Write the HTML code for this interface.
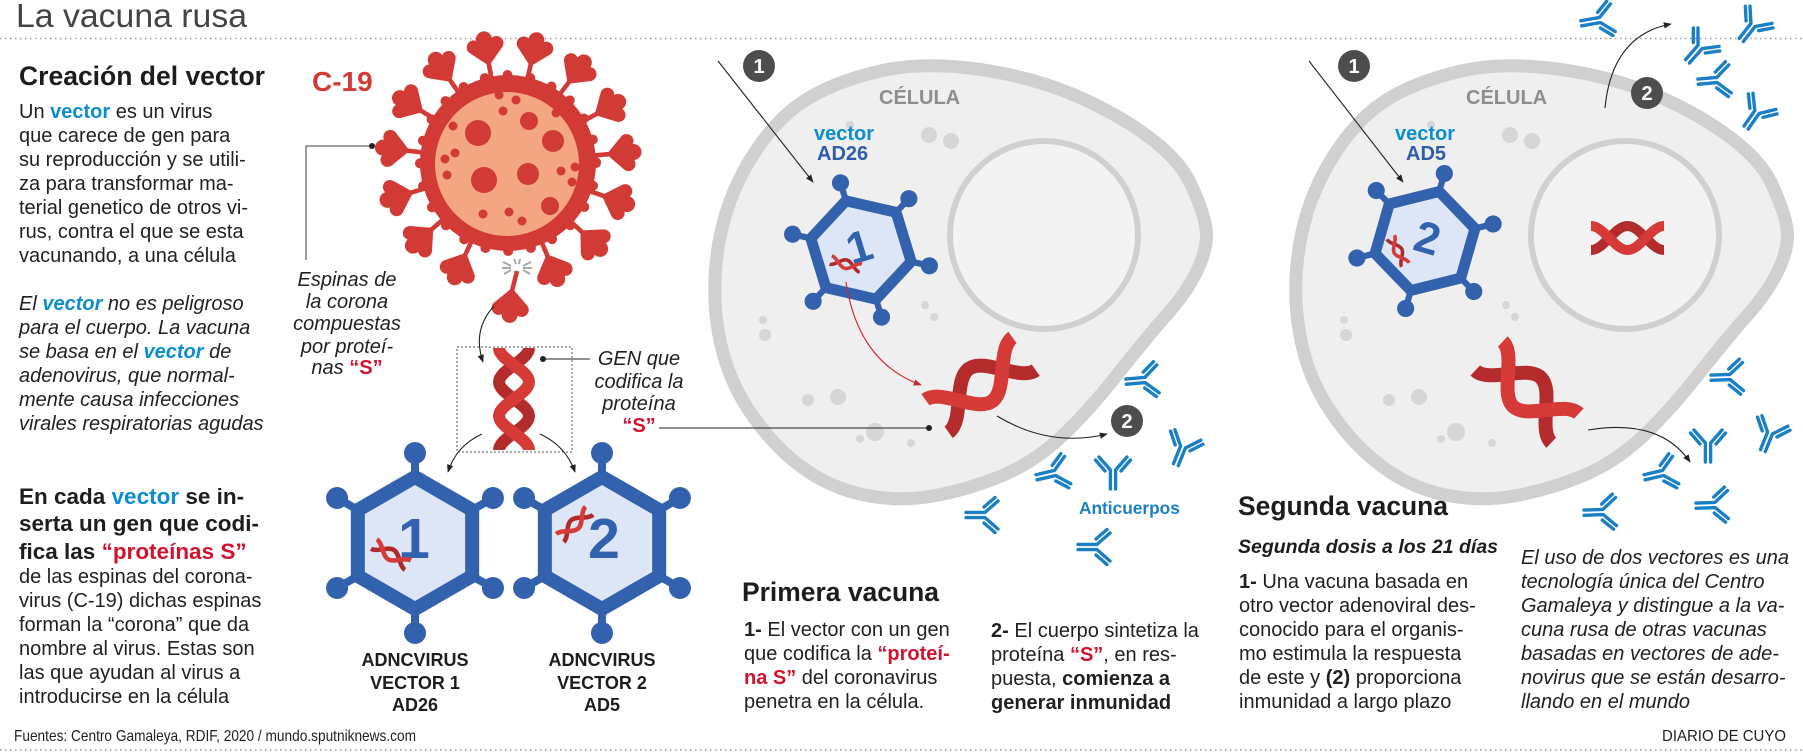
<!DOCTYPE html>
<html><head><meta charset="utf-8"><style>
html,body{margin:0;padding:0;background:#fff;overflow:hidden;}
svg{display:block;font-family:"Liberation Sans",Arial,sans-serif;}
</style></head><body>
<svg width="1803" height="752" viewBox="0 0 1803 752" xmlns="http://www.w3.org/2000/svg" xmlns:xlink="http://www.w3.org/1999/xlink">
<defs>
<marker id="ah" viewBox="0 0 10 10" refX="9" refY="5" markerWidth="8" markerHeight="8" markerUnits="userSpaceOnUse" orient="auto"><path d="M0 1 L10 5 L0 9 z" fill="#222"/></marker>
<marker id="ahr" viewBox="0 0 10 10" refX="9" refY="5" markerWidth="8" markerHeight="8" markerUnits="userSpaceOnUse" orient="auto"><path d="M0 1 L10 5 L0 9 z" fill="#d3202e"/></marker>
<g id="ab" fill="none" stroke="#1b7fc6" stroke-width="3.4" stroke-linecap="round" stroke-linejoin="round"><path d="M-2.6 19 V0 L-14 -13 M2.6 19 V0 L14 -13 M-8 1 L-17.5 -10 M8 1 L17.5 -10"/></g>
<g id="sph"><path d="M0 -99 L-16.5 -115 A7 7 0 0 1 -8 -126 A8 8 0 0 1 8 -126 A7 7 0 0 1 16.5 -115 Z"/></g>
<g id="sp"><rect x="-2.3" y="-108" width="4.6" height="24"/><use href="#sph" xlink:href="#sph"/></g>
<g id="hex">
 <g stroke="#3262ae" stroke-width="8"><line x1="0" y1="-66" x2="0" y2="-90"/><line x1="57.16" y1="-33" x2="77.94" y2="-45"/><line x1="57.16" y1="33" x2="77.94" y2="45"/><line x1="0" y1="66" x2="0" y2="90"/><line x1="-57.16" y1="33" x2="-77.94" y2="45"/><line x1="-57.16" y1="-33" x2="-77.94" y2="-45"/></g>
 <g fill="#3262ae"><circle cx="0" cy="-90" r="11"/><circle cx="77.94" cy="-45" r="11"/><circle cx="77.94" cy="45" r="11"/><circle cx="0" cy="90" r="11"/><circle cx="-77.94" cy="45" r="11"/><circle cx="-77.94" cy="-45" r="11"/></g>
 <polygon points="0,-66 57.16,-33 57.16,33 0,66 -57.16,33 -57.16,-33" fill="#dce6f6" stroke="#3262ae" stroke-width="14" stroke-linejoin="round"/>
</g>
<g id="mh" fill="none" stroke-width="4.5"><path stroke="#b02a2a" d="M0,5.5 C7.2,5.5 12.8,-5.5 20,-5.5 C27.2,-5.5 32.8,5.5 40,5.5"/><path stroke="#d63b37" d="M0,-5.5 C7.2,-5.5 12.8,5.5 20,5.5 C27.2,5.5 32.8,-5.5 40,-5.5"/></g>
</defs>

<!-- dotted separators -->
<line x1="0" y1="38.5" x2="1803" y2="38.5" stroke="#9a9a9a" stroke-width="1.5" stroke-dasharray="1.5 3.5"/>
<line x1="0" y1="750" x2="1803" y2="750" stroke="#9a9a9a" stroke-width="1.5" stroke-dasharray="1.5 3.5"/>

<!-- cells -->
<g id="cell">
 <path d="M 878 71.5 Q 926 60 993 71.5 Q 1060 83 1117.5 116.5 Q 1175 150 1190.5 183.5 Q 1206 217 1206.5 233.5 Q 1207 250 1197 271 Q 1187 292 1167 314.5 Q 1147 337 1117 375 Q 1087 413 1060 438 Q 1033 463 1000 476.5 Q 967 490 933 496 Q 899 502 864.5 495 Q 830 488 801 466.5 Q 772 445 749 410.5 Q 726 376 718.5 333 Q 711 290 718.5 245 Q 726 200 749 161.5 Q 772 123 801 103 Q 830 83 878 71.5 Z" fill="#efefef" stroke="#d0d0d0" stroke-width="13"/>
 <circle cx="1044" cy="235" r="94" fill="#f3f3f3" stroke="#d0d0d0" stroke-width="6"/>
 <g fill="#d6d6d6">
  <circle cx="929" cy="135" r="8"/><circle cx="951" cy="141" r="8"/><circle cx="850" cy="125" r="4"/><circle cx="833" cy="137" r="3"/>
  <circle cx="763" cy="320" r="4"/><circle cx="765" cy="335" r="6"/><circle cx="925" cy="305" r="4"/><circle cx="934" cy="317" r="4"/>
  <circle cx="808" cy="400" r="6"/><circle cx="838" cy="397" r="8"/><circle cx="875" cy="432" r="9"/><circle cx="860" cy="439" r="4"/><circle cx="911" cy="443" r="4"/>
 </g>
</g>
<use href="#cell" xlink:href="#cell" transform="translate(581,0)"/>

<!-- virus -->
<g fill="#d23a36">
 <use href="#sp" xlink:href="#sp" transform="translate(508,163) rotate(85)"/>
 <use href="#sp" xlink:href="#sp" transform="translate(508,163) rotate(109)"/>
 <use href="#sp" xlink:href="#sp" transform="translate(508,163) rotate(133)"/>
 <use href="#sp" xlink:href="#sp" transform="translate(508,163) rotate(157)"/>
 <use href="#sp" xlink:href="#sp" transform="translate(508,163) rotate(205)"/>
 <use href="#sp" xlink:href="#sp" transform="translate(508,163) rotate(229)"/>
 <use href="#sp" xlink:href="#sp" transform="translate(508,163) rotate(253)"/>
 <use href="#sp" xlink:href="#sp" transform="translate(508,163) rotate(277)"/>
 <use href="#sp" xlink:href="#sp" transform="translate(508,163) rotate(301)"/>
 <use href="#sp" xlink:href="#sp" transform="translate(508,163) rotate(325)"/>
 <use href="#sp" xlink:href="#sp" transform="translate(508,163) rotate(349)"/>
 <use href="#sp" xlink:href="#sp" transform="translate(508,163) rotate(13)"/>
 <use href="#sp" xlink:href="#sp" transform="translate(508,163) rotate(37)"/>
 <use href="#sp" xlink:href="#sp" transform="translate(508,163) rotate(61)"/>
 <circle cx="508" cy="163" r="88"/>
 <circle cx="508" cy="163" r="88" fill="none" stroke="#d23a36" stroke-width="10" stroke-dasharray="0 23" stroke-linecap="round"/>
 <circle cx="507" cy="164" r="72" fill="#f4a582"/>
 <circle cx="478" cy="133" r="13"/><circle cx="484" cy="180" r="13"/><circle cx="529" cy="121" r="9"/><circle cx="553" cy="141" r="11"/><circle cx="528" cy="174" r="11"/><circle cx="550" cy="206" r="9"/>
 <circle cx="499" cy="95" r="4.5"/><circle cx="516" cy="100" r="4.5"/><circle cx="503" cy="111" r="4.5"/><circle cx="556" cy="113" r="4.5"/><circle cx="453" cy="126" r="4.5"/><circle cx="455" cy="153" r="4.5"/><circle cx="445" cy="159" r="4.5"/><circle cx="447" cy="175" r="4.5"/><circle cx="561" cy="171" r="4.5"/><circle cx="575" cy="167" r="4.5"/><circle cx="572" cy="182" r="4.5"/><circle cx="483" cy="214" r="4.5"/><circle cx="509" cy="212" r="4.5"/><circle cx="522" cy="221" r="4.5"/>
 <!-- detached spike -->
 <line x1="517" y1="271" x2="512" y2="291" stroke="#d23a36" stroke-width="4.6"/>
 <g transform="translate(512,288) rotate(185) translate(0,99)"><use href="#sph" xlink:href="#sph"/></g>
</g>
<g stroke="#a9a9a9" stroke-width="2">
 <line x1="503" y1="262" x2="511" y2="266"/><line x1="502" y1="268" x2="511" y2="268"/><line x1="504" y1="274" x2="511" y2="270"/>
 <line x1="523" y1="266" x2="531" y2="262"/><line x1="523" y1="268" x2="532" y2="268"/><line x1="523" y1="270" x2="530" y2="274"/>
 <line x1="514" y1="259" x2="516" y2="264"/><line x1="520" y1="259" x2="519" y2="264"/>
</g>

<!-- gene box -->
<rect x="457" y="347" width="115" height="105" fill="none" stroke="#555" stroke-width="1" stroke-dasharray="2 2"/>
<g transform="translate(514,348) rotate(90)" fill="none" stroke-width="12">
 <path stroke="#b32c2b" d="M0,-15 C12.2,-15 21.8,15 34,15 C46.2,15 55.8,-15 68,-15 C80.2,-15 89.8,15 102,15"/>
 <path stroke="#d53a37" d="M0,15 C12.2,15 21.8,-15 34,-15 C46.2,-15 55.8,15 68,15 C80.2,15 89.8,-15 102,-15"/>
</g>

<!-- hexagons -->
<g transform="translate(415,543)">
 <use href="#hex" xlink:href="#hex"/>
 <text x="-1" y="15" font-size="57" font-weight="bold" fill="#3262ae" text-anchor="middle">1</text>
 <use href="#mh" xlink:href="#mh" transform="translate(-41,1) rotate(32)"/>
</g>
<g transform="translate(602,543)">
 <use href="#hex" xlink:href="#hex"/>
 <text x="2" y="15" font-size="57" font-weight="bold" fill="#3262ae" text-anchor="middle">2</text>
 <use href="#mh" xlink:href="#mh" transform="translate(-42,-5) rotate(-43)"/>
</g>
<g transform="translate(861,250) rotate(-17) scale(0.78)">
 <use href="#hex" xlink:href="#hex"/>
 <text x="-1" y="15" font-size="57" font-weight="bold" fill="#3262ae" text-anchor="middle">1</text>
 <use href="#mh" xlink:href="#mh" transform="translate(-41,1) rotate(32)"/>
</g>
<g transform="translate(1425,241) rotate(16) scale(0.78)">
 <use href="#hex" xlink:href="#hex"/>
 <text x="2" y="15" font-size="57" font-weight="bold" fill="#3262ae" text-anchor="middle">2</text>
 <use href="#mh" xlink:href="#mh" transform="translate(-43.6,7.5) rotate(46)"/>
</g>

<!-- big helices -->
<g transform="translate(937,416) rotate(-35.5)" fill="none" stroke-width="14">
 <path stroke="#b32c2b" d="M0,20 C19.3,20 34.2,-20 53.5,-20 C72.8,-20 87.7,20 107,20"/>
 <path stroke="#d53a37" d="M0,-20 C19.3,-20 34.2,20 53.5,20 C72.8,20 87.7,-20 107,-20"/>
</g>
<g transform="translate(1489,356) rotate(43.5)" fill="none" stroke-width="14">
 <path stroke="#b32c2b" d="M0,20 C18.9,20 33.5,-20 52.4,-20 C71.3,-20 85.9,20 104.8,20"/>
 <path stroke="#d53a37" d="M0,-20 C18.9,-20 33.5,20 52.4,20 C71.3,20 85.9,-20 104.8,-20"/>
</g>
<g transform="translate(1591,238)" fill="none" stroke-width="10">
 <path stroke="#b32c2b" d="M0,12 C13.1,12 23.4,-12 36.5,-12 C49.6,-12 59.9,12 73,12"/>
 <path stroke="#d53a37" d="M0,-12 C13.1,-12 23.4,12 36.5,12 C49.6,12 59.9,-12 73,-12"/>
</g>

<!-- arrows & callouts -->
<g fill="none" stroke="#222" stroke-width="1.1">
 <path d="M494 306 Q472 330 483 362" marker-end="url(#ah)"/>
 <path d="M482 434 Q456 446 448 472" marker-end="url(#ah)"/>
 <path d="M540 434 Q566 446 575 472" marker-end="url(#ah)"/>
 <path d="M718 61 L813 182" marker-end="url(#ah)"/>
 <path d="M1309 61 L1403 182" marker-end="url(#ah)"/>
 <path d="M997 416 Q1050 448 1107 434" marker-end="url(#ah)"/>
 <path d="M1605 108 Q1612 35 1671 24" marker-end="url(#ah)"/>
 <path d="M1588 430 Q1660 418 1690 462" marker-end="url(#ah)"/>
 <polyline points="372,146 306,146 306,260" stroke="#666" stroke-width="1.3"/>
 <line x1="543" y1="359" x2="590" y2="359"/>
 <line x1="659" y1="428" x2="929" y2="428"/>
</g>
<path d="M846 282 Q858 362 921 385" fill="none" stroke="#d3202e" stroke-width="1.1" marker-end="url(#ahr)"/>
<g fill="#222"><circle cx="372" cy="146" r="3"/><circle cx="543" cy="359" r="3"/><circle cx="929" cy="428" r="3"/></g>

<!-- numbered circles -->
<g fill="#4d4d4d"><circle cx="759" cy="66" r="16"/><circle cx="1354" cy="66" r="16"/><circle cx="1127" cy="421" r="16"/><circle cx="1647" cy="93" r="16"/></g>
<g fill="#fff" font-size="20" font-weight="bold" text-anchor="middle">
 <text x="759" y="73">1</text><text x="1354" y="73">1</text><text x="1127" y="428">2</text><text x="1647" y="100">2</text>
</g>

<!-- antibodies -->
<g>
 <use href="#ab" xlink:href="#ab" transform="translate(1145,380) rotate(85)"/>
 <use href="#ab" xlink:href="#ab" transform="translate(1183,447) rotate(22)"/>
 <use href="#ab" xlink:href="#ab" transform="translate(1113,470)"/>
 <use href="#ab" xlink:href="#ab" transform="translate(1055,473) rotate(77)"/>
 <use href="#ab" xlink:href="#ab" transform="translate(985,515) rotate(90)"/>
 <use href="#ab" xlink:href="#ab" transform="translate(1097,547) rotate(90)"/>
 <use href="#ab" xlink:href="#ab" transform="translate(1600,20) rotate(80)"/>
 <use href="#ab" xlink:href="#ab" transform="translate(1700,47) rotate(41)"/>
 <use href="#ab" xlink:href="#ab" transform="translate(1753,25) rotate(38)"/>
 <use href="#ab" xlink:href="#ab" transform="translate(1717,80) rotate(85)"/>
 <use href="#ab" xlink:href="#ab" transform="translate(1757,112) rotate(35)"/>
 <use href="#ab" xlink:href="#ab" transform="translate(1730,377) rotate(88)"/>
 <use href="#ab" xlink:href="#ab" transform="translate(1770,433) rotate(22)"/>
 <use href="#ab" xlink:href="#ab" transform="translate(1708,443)"/>
 <use href="#ab" xlink:href="#ab" transform="translate(1663,473) rotate(77)"/>
 <use href="#ab" xlink:href="#ab" transform="translate(1603,512) rotate(88)"/>
 <use href="#ab" xlink:href="#ab" transform="translate(1715,505) rotate(88)"/>
</g>

<!-- TEXT -->
<text x="16" y="27" font-size="33" fill="#444" textLength="231" lengthAdjust="spacingAndGlyphs">La vacuna rusa</text>
<text x="19" y="85" font-size="26.5" font-weight="bold" fill="#1d1d1b" textLength="246" lengthAdjust="spacingAndGlyphs">Creación del vector</text>

<g font-size="20" fill="#231f20">
 <text x="19" y="118">Un <tspan font-weight="bold" fill="#0a8dd1">vector</tspan> es un virus</text>
 <text x="19" y="142">que carece de gen para</text>
 <text x="19" y="166">su reproducción y se utili-</text>
 <text x="19" y="190">za para transformar ma-</text>
 <text x="19" y="214">terial genetico de otros vi-</text>
 <text x="19" y="238">rus, contra el que se esta</text>
 <text x="19" y="262">vacunando, a una célula</text>
</g>
<g font-size="20" fill="#231f20" font-style="italic">
 <text x="19" y="310">El <tspan font-weight="bold" fill="#0a8dd1">vector</tspan> no es peligroso</text>
 <text x="19" y="334">para el cuerpo. La vacuna</text>
 <text x="19" y="358">se basa en el <tspan font-weight="bold" fill="#0a8dd1">vector</tspan> de</text>
 <text x="19" y="382">adenovirus, que normal-</text>
 <text x="19" y="406">mente causa infecciones</text>
 <text x="19" y="430">virales respiratorias agudas</text>
</g>
<g font-size="22.5" font-weight="bold" fill="#1d1d1b">
 <text x="19" y="504">En cada <tspan fill="#0a8dd1">vector</tspan> se in-</text>
 <text x="19" y="531">serta un gen que codi-</text>
 <text x="19" y="559">fica las <tspan fill="#d2122e">“proteínas S”</tspan></text>
</g>
<g font-size="20" fill="#231f20">
 <text x="19" y="583">de las espinas del corona-</text>
 <text x="19" y="607">virus (C-19) dichas espinas</text>
 <text x="19" y="631">forman la “corona” que da</text>
 <text x="19" y="655">nombre al virus. Estas son</text>
 <text x="19" y="679">las que ayudan al virus a</text>
 <text x="19" y="703">introducirse en la célula</text>
</g>
<text x="14" y="741" font-size="16" fill="#231f20" textLength="402" lengthAdjust="spacingAndGlyphs">Fuentes: Centro Gamaleya, RDIF, 2020 / mundo.sputniknews.com</text>
<text x="1662" y="741" font-size="16" fill="#231f20" textLength="124" lengthAdjust="spacingAndGlyphs">DIARIO DE CUYO</text>

<text x="312" y="91" font-size="28" font-weight="bold" fill="#d23a36">C-19</text>

<g font-size="20" font-style="italic" fill="#231f20" text-anchor="middle">
 <text x="347" y="286">Espinas de</text>
 <text x="347" y="308">la corona</text>
 <text x="347" y="330">compuestas</text>
 <text x="347" y="353">por proteí-</text>
 <text x="347" y="374">nas <tspan font-weight="bold" font-style="normal" fill="#d2122e">“S”</tspan></text>
 <text x="639" y="365">GEN que</text>
 <text x="639" y="388">codifica la</text>
 <text x="639" y="410">proteína</text>
 <text x="639" y="432" font-weight="bold" font-style="normal" fill="#d2122e">“S”</text>
</g>

<g font-size="18" font-weight="bold" fill="#1d1d1b" text-anchor="middle">
 <text x="415" y="666">ADNCVIRUS</text><text x="415" y="689">VECTOR 1</text><text x="415" y="711">AD26</text>
 <text x="602" y="666">ADNCVIRUS</text><text x="602" y="689">VECTOR 2</text><text x="602" y="711">AD5</text>
</g>

<g font-size="20" font-weight="bold">
 <text x="879" y="104" fill="#8e8e8e">CÉLULA</text>
 <text x="1466" y="104" fill="#8e8e8e">CÉLULA</text>
 <text x="814" y="140" fill="#0a8dd1">vector</text>
 <text x="817" y="160" fill="#2f5da9">AD26</text>
 <text x="1395" y="140" fill="#0a8dd1">vector</text>
 <text x="1406" y="160" fill="#2f5da9">AD5</text>
</g>
<text x="1079" y="514" font-size="17.3" font-weight="bold" fill="#1a7fc4">Anticuerpos</text>

<text x="742" y="601" font-size="26.5" font-weight="bold" fill="#1d1d1b" textLength="197" lengthAdjust="spacingAndGlyphs">Primera vacuna</text>
<g font-size="20" fill="#231f20">
 <text x="744" y="636"><tspan font-weight="bold">1-</tspan> El vector con un gen</text>
 <text x="744" y="660">que codifica la <tspan font-weight="bold" fill="#d2122e">“proteí-</tspan></text>
 <text x="744" y="684"><tspan font-weight="bold" fill="#d2122e">na S”</tspan> del coronavirus</text>
 <text x="744" y="708">penetra en la célula.</text>
 <text x="991" y="637"><tspan font-weight="bold">2-</tspan> El cuerpo sintetiza la</text>
 <text x="991" y="661">proteína <tspan font-weight="bold" fill="#d2122e">“S”</tspan>, en res-</text>
 <text x="991" y="685">puesta, <tspan font-weight="bold">comienza a</tspan></text>
 <text x="991" y="709" font-weight="bold">generar inmunidad</text>
</g>

<text x="1238" y="515" font-size="26.5" font-weight="bold" fill="#1d1d1b" textLength="210" lengthAdjust="spacingAndGlyphs">Segunda vacuna</text>
<text x="1238" y="553" font-size="19.5" font-weight="bold" font-style="italic" fill="#1d1d1b" textLength="260" lengthAdjust="spacingAndGlyphs">Segunda dosis a los 21 días</text>
<g font-size="20" fill="#231f20">
 <text x="1239" y="588"><tspan font-weight="bold">1-</tspan> Una vacuna basada en</text>
 <text x="1239" y="612">otro vector adenoviral des-</text>
 <text x="1239" y="636">conocido para el organis-</text>
 <text x="1239" y="660">mo estimula la respuesta</text>
 <text x="1239" y="684">de este y <tspan font-weight="bold">(2)</tspan> proporciona</text>
 <text x="1239" y="708">inmunidad a largo plazo</text>
</g>
<g font-size="20" fill="#231f20" font-style="italic">
 <text x="1521" y="564">El uso de dos vectores es una</text>
 <text x="1521" y="588">tecnología única del Centro</text>
 <text x="1521" y="612">Gamaleya y distingue a la va-</text>
 <text x="1521" y="636">cuna rusa de otras vacunas</text>
 <text x="1521" y="660">basadas en vectores de ade-</text>
 <text x="1521" y="684">novirus que se están desarro-</text>
 <text x="1521" y="708">llando en el mundo</text>
</g>
</svg>
</body></html>
